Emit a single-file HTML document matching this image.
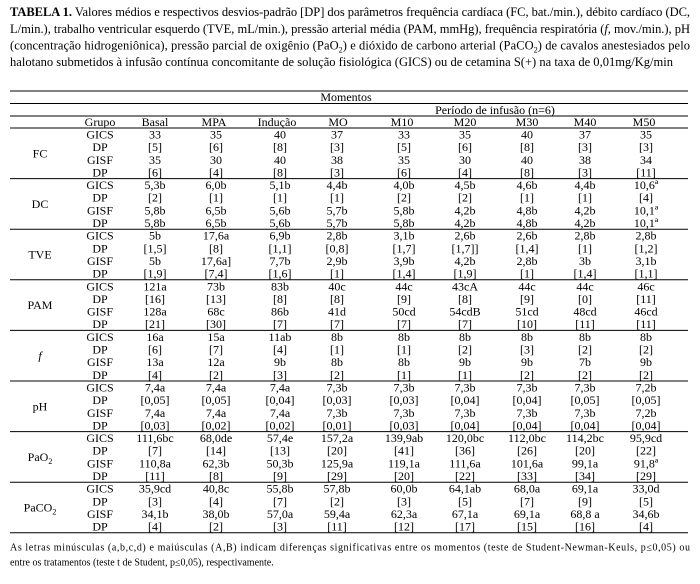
<!DOCTYPE html>
<html><head><meta charset="utf-8"><style>
html,body{margin:0;padding:0;background:#fff;}
svg{display:block;}
text{font-family:"Liberation Serif","DejaVu Serif",serif;fill:#000;}
</style></head><body>
<svg width="700" height="584" viewBox="0 0 700 584" xmlns="http://www.w3.org/2000/svg">
<g font-size="12.5">
<text x="10" y="16" textLength="680" lengthAdjust="spacing"><tspan font-weight="bold">TABELA 1.</tspan> Valores médios e respectivos desvios-padrão [DP] dos parâmetros frequência cardíaca (FC, bat./min.), débito cardíaco (DC,</text>
<text x="10" y="33" textLength="680" lengthAdjust="spacing">L/min.), trabalho ventricular esquerdo (TVE, mL/min.), pressão arterial média (PAM, mmHg), frequência respiratória (<tspan font-style="italic">f,</tspan> mov./min.), pH</text>
<text x="10" y="49.5" textLength="680" lengthAdjust="spacing">(concentração hidrogeniônica), pressão parcial de oxigênio (PaO<tspan font-size="8" dy="3">2</tspan><tspan dy="-3">) e dióxido de carbono arterial (PaCO</tspan><tspan font-size="8" dy="3">2</tspan><tspan dy="-3">) de cavalos anestesiados pelo</tspan></text>
<text x="10" y="66" textLength="663" lengthAdjust="spacing">halotano submetidos à infusão contínua concomitante de solução fisiológica (GICS) ou de cetamina S(+) na taxa de 0,01mg/Kg/min</text>
</g>

<g stroke="#000" stroke-width="1">
<line x1="10" y1="91" x2="688" y2="91"/>
<line x1="10" y1="103.5" x2="688" y2="103.5"/>
<line x1="10" y1="116" x2="688" y2="116"/>
<line x1="10" y1="128" x2="688" y2="128"/>
<line x1="10" y1="178.6" x2="688" y2="178.6"/>
<line x1="10" y1="229.2" x2="688" y2="229.2"/>
<line x1="10" y1="279.8" x2="688" y2="279.8"/>
<line x1="10" y1="330.4" x2="688" y2="330.4"/>
<line x1="10" y1="381" x2="688" y2="381"/>
<line x1="10" y1="431.6" x2="688" y2="431.6"/>
<line x1="10" y1="482.2" x2="688" y2="482.2"/>
<line x1="10" y1="532.8" x2="688" y2="532.8"/>
</g>

<g font-size="12" text-anchor="middle">
<text x="346" y="101">Momentos</text>
<text x="495" y="114">Período de infusão (n=6)</text>
<text y="126"><tspan x="100">Grupo</tspan><tspan x="155">Basal</tspan><tspan x="214">MPA</tspan><tspan x="277">Indução</tspan><tspan x="338">MO</tspan><tspan x="402">M10</tspan><tspan x="465">M20</tspan><tspan x="527">M30</tspan><tspan x="585">M40</tspan><tspan x="644">M50</tspan></text>

<!-- FC -->
<g transform="translate(0,128)">
<text x="40" y="29.3">FC</text>
<text y="10.5"><tspan x="100">GICS</tspan><tspan x="155">33</tspan><tspan x="216">35</tspan><tspan x="280">40</tspan><tspan x="337">37</tspan><tspan x="404">33</tspan><tspan x="465">35</tspan><tspan x="527">40</tspan><tspan x="585">37</tspan><tspan x="646">35</tspan></text>
<text y="23.15"><tspan x="100">DP</tspan><tspan x="155">[5]</tspan><tspan x="216">[6]</tspan><tspan x="280">[8]</tspan><tspan x="337">[3]</tspan><tspan x="404">[5]</tspan><tspan x="465">[6]</tspan><tspan x="527">[8]</tspan><tspan x="585">[3]</tspan><tspan x="646">[3]</tspan></text>
<text y="35.8"><tspan x="100">GISF</tspan><tspan x="155">35</tspan><tspan x="216">30</tspan><tspan x="280">40</tspan><tspan x="337">38</tspan><tspan x="404">35</tspan><tspan x="465">30</tspan><tspan x="527">40</tspan><tspan x="585">38</tspan><tspan x="646">34</tspan></text>
<text y="48.45"><tspan x="100">DP</tspan><tspan x="155">[6]</tspan><tspan x="216">[4]</tspan><tspan x="280">[8]</tspan><tspan x="337">[3]</tspan><tspan x="404">[6]</tspan><tspan x="465">[4]</tspan><tspan x="527">[8]</tspan><tspan x="585">[3]</tspan><tspan x="646">[11]</tspan></text>
</g>

<!-- DC -->
<g transform="translate(0,178.6)">
<text x="40" y="29.3">DC</text>
<text y="10.5"><tspan x="100">GICS</tspan><tspan x="155">5,3b</tspan><tspan x="216">6,0b</tspan><tspan x="280">5,1b</tspan><tspan x="337">4,4b</tspan><tspan x="404">4,0b</tspan><tspan x="465">4,5b</tspan><tspan x="527">4,6b</tspan><tspan x="585">4,4b</tspan><tspan x="646">10,6ª</tspan></text>
<text y="23.15"><tspan x="100">DP</tspan><tspan x="155">[2]</tspan><tspan x="216">[1]</tspan><tspan x="280">[1]</tspan><tspan x="337">[1]</tspan><tspan x="404">[2]</tspan><tspan x="465">[2]</tspan><tspan x="527">[1]</tspan><tspan x="585">[1]</tspan><tspan x="646">[4]</tspan></text>
<text y="35.8"><tspan x="100">GISF</tspan><tspan x="155">5,8b</tspan><tspan x="216">6,5b</tspan><tspan x="280">5,6b</tspan><tspan x="337">5,7b</tspan><tspan x="404">5,8b</tspan><tspan x="465">4,2b</tspan><tspan x="527">4,8b</tspan><tspan x="585">4,2b</tspan><tspan x="646">10,1ª</tspan></text>
<text y="48.45"><tspan x="100">DP</tspan><tspan x="155">5,8b</tspan><tspan x="216">6,5b</tspan><tspan x="280">5,6b</tspan><tspan x="337">5,7b</tspan><tspan x="404">5,8b</tspan><tspan x="465">4,2b</tspan><tspan x="527">4,8b</tspan><tspan x="585">4,2b</tspan><tspan x="646">10,1ª</tspan></text>
</g>

<!-- TVE -->
<g transform="translate(0,229.2)">
<text x="40" y="29.3">TVE</text>
<text y="10.5"><tspan x="100">GICS</tspan><tspan x="155">5b</tspan><tspan x="216">17,6a</tspan><tspan x="280">6,9b</tspan><tspan x="337">2,8b</tspan><tspan x="404">3,1b</tspan><tspan x="465">2,6b</tspan><tspan x="527">2,6b</tspan><tspan x="585">2,8b</tspan><tspan x="646">2,8b</tspan></text>
<text y="23.15"><tspan x="100">DP</tspan><tspan x="155">[1,5]</tspan><tspan x="216">[8]</tspan><tspan x="280">[1,1]</tspan><tspan x="337">[0,8]</tspan><tspan x="404">[1,7]</tspan><tspan x="465">[1,7]]</tspan><tspan x="527">[1,4]</tspan><tspan x="585">[1]</tspan><tspan x="646">[1,2]</tspan></text>
<text y="35.8"><tspan x="100">GISF</tspan><tspan x="155">5b</tspan><tspan x="216">17,6a]</tspan><tspan x="280">7,7b</tspan><tspan x="337">2,9b</tspan><tspan x="404">3,9b</tspan><tspan x="465">4,2b</tspan><tspan x="527">2,8b</tspan><tspan x="585">3b</tspan><tspan x="646">3,1b</tspan></text>
<text y="48.45"><tspan x="100">DP</tspan><tspan x="155">[1,9]</tspan><tspan x="216">[7,4]</tspan><tspan x="280">[1,6]</tspan><tspan x="337">[1]</tspan><tspan x="404">[1,4]</tspan><tspan x="465">[1,9]</tspan><tspan x="527">[1]</tspan><tspan x="585">[1,4]</tspan><tspan x="646">[1,1]</tspan></text>
</g>

<!-- PAM -->
<g transform="translate(0,279.8)">
<text x="40" y="29.3">PAM</text>
<text y="10.5"><tspan x="100">GICS</tspan><tspan x="155">121a</tspan><tspan x="216">73b</tspan><tspan x="280">83b</tspan><tspan x="337">40c</tspan><tspan x="404">44c</tspan><tspan x="465">43cA</tspan><tspan x="527">44c</tspan><tspan x="585">44c</tspan><tspan x="646">46c</tspan></text>
<text y="23.15"><tspan x="100">DP</tspan><tspan x="155">[16]</tspan><tspan x="216">[13]</tspan><tspan x="280">[8]</tspan><tspan x="337">[8]</tspan><tspan x="404">[9]</tspan><tspan x="465">[8]</tspan><tspan x="527">[9]</tspan><tspan x="585">[0]</tspan><tspan x="646">[11]</tspan></text>
<text y="35.8"><tspan x="100">GISF</tspan><tspan x="155">128a</tspan><tspan x="216">68c</tspan><tspan x="280">86b</tspan><tspan x="337">41d</tspan><tspan x="404">50cd</tspan><tspan x="465">54cdB</tspan><tspan x="527">51cd</tspan><tspan x="585">48cd</tspan><tspan x="646">46cd</tspan></text>
<text y="48.45"><tspan x="100">DP</tspan><tspan x="155">[21]</tspan><tspan x="216">[30]</tspan><tspan x="280">[7]</tspan><tspan x="337">[7]</tspan><tspan x="404">[7]</tspan><tspan x="465">[7]</tspan><tspan x="527">[10]</tspan><tspan x="585">[11]</tspan><tspan x="646">[11]</tspan></text>
</g>

<!-- f -->
<g transform="translate(0,330.4)">
<text x="40" y="29.3" font-style="italic">f</text>
<text y="10.5"><tspan x="100">GICS</tspan><tspan x="155">16a</tspan><tspan x="216">15a</tspan><tspan x="280">11ab</tspan><tspan x="337">8b</tspan><tspan x="404">8b</tspan><tspan x="465">8b</tspan><tspan x="527">8b</tspan><tspan x="585">8b</tspan><tspan x="646">8b</tspan></text>
<text y="23.15"><tspan x="100">DP</tspan><tspan x="155">[6]</tspan><tspan x="216">[7]</tspan><tspan x="280">[4]</tspan><tspan x="337">[1]</tspan><tspan x="404">[1]</tspan><tspan x="465">[2]</tspan><tspan x="527">[3]</tspan><tspan x="585">[2]</tspan><tspan x="646">[2]</tspan></text>
<text y="35.8"><tspan x="100">GISF</tspan><tspan x="155">13a</tspan><tspan x="216">12a</tspan><tspan x="280">9b</tspan><tspan x="337">8b</tspan><tspan x="404">8b</tspan><tspan x="465">9b</tspan><tspan x="527">9b</tspan><tspan x="585">7b</tspan><tspan x="646">9b</tspan></text>
<text y="48.45"><tspan x="100">DP</tspan><tspan x="155">[4]</tspan><tspan x="216">[2]</tspan><tspan x="280">[3]</tspan><tspan x="337">[2]</tspan><tspan x="404">[1]</tspan><tspan x="465">[1]</tspan><tspan x="527">[2]</tspan><tspan x="585">[2]</tspan><tspan x="646">[2]</tspan></text>
</g>

<!-- pH -->
<g transform="translate(0,381)">
<text x="40" y="29.3">pH</text>
<text y="10.5"><tspan x="100">GICS</tspan><tspan x="155">7,4a</tspan><tspan x="216">7,4a</tspan><tspan x="280">7,4a</tspan><tspan x="337">7,3b</tspan><tspan x="404">7,3b</tspan><tspan x="465">7,3b</tspan><tspan x="527">7,3b</tspan><tspan x="585">7,3b</tspan><tspan x="646">7,2b</tspan></text>
<text y="23.15"><tspan x="100">DP</tspan><tspan x="155">[0,05]</tspan><tspan x="216">[0,05]</tspan><tspan x="280">[0,04]</tspan><tspan x="337">[0,03]</tspan><tspan x="404">[0,03]</tspan><tspan x="465">[0,04]</tspan><tspan x="527">[0,04]</tspan><tspan x="585">[0,05]</tspan><tspan x="646">[0,05]</tspan></text>
<text y="35.8"><tspan x="100">GISF</tspan><tspan x="155">7,4a</tspan><tspan x="216">7,4a</tspan><tspan x="280">7,4a</tspan><tspan x="337">7,3b</tspan><tspan x="404">7,3b</tspan><tspan x="465">7,3b</tspan><tspan x="527">7,3b</tspan><tspan x="585">7,3b</tspan><tspan x="646">7,2b</tspan></text>
<text y="48.45"><tspan x="100">DP</tspan><tspan x="155">[0,03]</tspan><tspan x="216">[0,02]</tspan><tspan x="280">[0,02]</tspan><tspan x="337">[0,01]</tspan><tspan x="404">[0,03]</tspan><tspan x="465">[0,04]</tspan><tspan x="527">[0,04]</tspan><tspan x="585">[0,04]</tspan><tspan x="646">[0,04]</tspan></text>
</g>

<!-- PaO2 -->
<g transform="translate(0,431.6)">
<text x="40" y="29.3">PaO<tspan font-size="8" dy="3">2</tspan></text>
<text y="10.5"><tspan x="100">GICS</tspan><tspan x="155">111,6bc</tspan><tspan x="216">68,0de</tspan><tspan x="280">57,4e</tspan><tspan x="337">157,2a</tspan><tspan x="404">139,9ab</tspan><tspan x="465">120,0bc</tspan><tspan x="527">112,0bc</tspan><tspan x="585">114,2bc</tspan><tspan x="646">95,9cd</tspan></text>
<text y="23.15"><tspan x="100">DP</tspan><tspan x="155">[7]</tspan><tspan x="216">[14]</tspan><tspan x="280">[13]</tspan><tspan x="337">[20]</tspan><tspan x="404">[41]</tspan><tspan x="465">[36]</tspan><tspan x="527">[26]</tspan><tspan x="585">[20]</tspan><tspan x="646">[22]</tspan></text>
<text y="35.8"><tspan x="100">GISF</tspan><tspan x="155">110,8a</tspan><tspan x="216">62,3b</tspan><tspan x="280">50,3b</tspan><tspan x="337">125,9a</tspan><tspan x="404">119,1a</tspan><tspan x="465">111,6a</tspan><tspan x="527">101,6a</tspan><tspan x="585">99,1a</tspan><tspan x="646">91,8ª</tspan></text>
<text y="48.45"><tspan x="100">DP</tspan><tspan x="155">[11]</tspan><tspan x="216">[8]</tspan><tspan x="280">[9]</tspan><tspan x="337">[29]</tspan><tspan x="404">[20]</tspan><tspan x="465">[22]</tspan><tspan x="527">[33]</tspan><tspan x="585">[34]</tspan><tspan x="646">[29]</tspan></text>
</g>

<!-- PaCO2 -->
<g transform="translate(0,482.2)">
<text x="40" y="29.3">PaCO<tspan font-size="8" dy="3">2</tspan></text>
<text y="10.5"><tspan x="100">GICS</tspan><tspan x="155">35,9cd</tspan><tspan x="216">40,8c</tspan><tspan x="280">55,8b</tspan><tspan x="337">57,8b</tspan><tspan x="404">60,0b</tspan><tspan x="465">64,1ab</tspan><tspan x="527">68,0a</tspan><tspan x="585">69,1a</tspan><tspan x="646">33,0d</tspan></text>
<text y="23.15"><tspan x="100">DP</tspan><tspan x="155">[3]</tspan><tspan x="216">[4]</tspan><tspan x="280">[7]</tspan><tspan x="337">[2]</tspan><tspan x="404">[3]</tspan><tspan x="465">[5]</tspan><tspan x="527">[7]</tspan><tspan x="585">[9]</tspan><tspan x="646">[5]</tspan></text>
<text y="35.8"><tspan x="100">GISF</tspan><tspan x="155">34,1b</tspan><tspan x="216">38,0b</tspan><tspan x="280">57,0a</tspan><tspan x="337">59,4a</tspan><tspan x="404">62,3a</tspan><tspan x="465">67,1a</tspan><tspan x="527">69,1a</tspan><tspan x="585">68,8 a</tspan><tspan x="646">34,6b</tspan></text>
<text y="48.45"><tspan x="100">DP</tspan><tspan x="155">[4]</tspan><tspan x="216">[2]</tspan><tspan x="280">[3]</tspan><tspan x="337">[11]</tspan><tspan x="404">[12]</tspan><tspan x="465">[17]</tspan><tspan x="527">[15]</tspan><tspan x="585">[16]</tspan><tspan x="646">[4]</tspan></text>
</g>
</g>

<g font-size="10">
<text x="10" y="550.5" textLength="680" lengthAdjust="spacing">As letras minúsculas (a,b,c,d) e maiúsculas (A,B) indicam diferenças significativas entre os momentos (teste de Student-Newman-Keuls, p≤0,05) ou</text>
<text x="10" y="565.5">entre os tratamentos (teste t de Student, p≤0,05), respectivamente.</text>
</g>
</svg>
</body></html>
